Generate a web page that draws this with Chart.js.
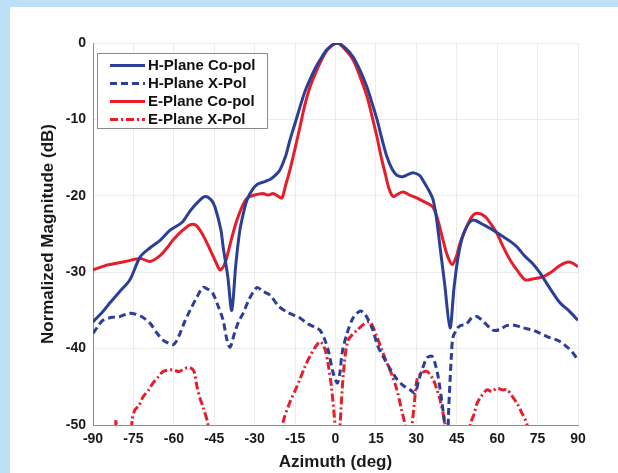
<!DOCTYPE html>
<html>
<head>
<meta charset="utf-8">
<script src="https://cdn.jsdelivr.net/npm/chart.js@4.4.1/dist/chart.umd.min.js"></script>
<style>
  html, body { margin: 0; padding: 0; background: #bde0f6; width: 618px; height: 473px; overflow: hidden; }
  #wrap { position: absolute; left: 10px; top: 7px; width: 608px; height: 466px; background: #ffffff; }
  canvas { display: block; }
</style>
</head>
<body>
<div id="wrap"><canvas id="c" width="608" height="466"></canvas></div>
<script>
// ---- Data ----
const seriesLabels = ['H-Plane Co-pol', 'H-Plane X-Pol', 'E-Plane Co-pol', 'E-Plane X-Pol'];
const xTicks = [-90, -75, -60, -45, -30, -15, 0, 15, 30, 45, 60, 75, 90];
const yTicks = [0, -10, -20, -30, -40, -50];

const hCoAng = [-90,-86,-83.7,-80,-76.3,-72.5,-68.8,-65,-61.4,-57,-54,-51,-48.4,-46,-44.7,-42.5,-41.7,-40,-38.5,-37,-35.5,-34,-32.8,-31,-29,-26,-24,-22,-20.6,-18.5,-16.9,-15,-13.2,-11.5,-9.5,-7.5,-5.7,-3,0.6,3.5,6.5,9,11.7,13.5,15.4,17.2,19.1,21,22.8,25,27,29,31.4,32.5,34.5,36.2,37.5,38.8,40.5,42.5,44,45.5,47.5,50.7,55,58.5,62,65,67.4,70,73,75.9,79,83.3,86.5,90];
const hCo    = [-36.5,-35,-34,-32.5,-31,-28,-26.8,-25.8,-24.5,-23.5,-22,-20.8,-20.1,-20.6,-21.5,-24.5,-26.7,-30.5,-35,-29,-24.5,-22,-20.5,-19.3,-18.5,-18.1,-17.8,-17.2,-16.6,-14.8,-12.7,-10.5,-8.4,-6.5,-4.8,-3.3,-2.2,-0.8,0,-0.6,-1.8,-3.5,-5.8,-7.8,-10,-12.5,-14.9,-16.5,-17.3,-17.5,-17.2,-17,-17.4,-18,-19.2,-20.5,-23,-26.7,-31.5,-37.3,-32,-28,-25,-23.2,-23.8,-24.5,-25.3,-26,-26.7,-27.8,-28.8,-30.1,-31.8,-34,-35,-36.3];

const hXAng = [-90,-88,-86.3,-83,-80,-77,-75.2,-72,-68.8,-66.2,-64,-62,-60.3,-59,-57.7,-56,-54,-51.5,-49.2,-47.5,-45.5,-43.5,-41.7,-40.2,-39.1,-37.5,-36,-34.3,-32,-29.1,-27,-24.3,-21,-18,-15,-13.2,-10,-7,-5.7,-4,-2.5,-1,0.6,1.5,2.5,4.3,6.5,9.1,11,13.9,15.5,17.6,20,22.8,25,27.7,29.5,31,32.5,34,35.8,37,38.1,39.5,40.7,41.5,42,43,43.6,45,46.2,48.5,50.5,52.5,55,58.5,61,63.5,65.9,69,71,73.4,76,79,83,86,88,90];
const hX    = [-38,-37,-36.3,-35.9,-35.8,-35.4,-35.4,-35.8,-36.7,-38,-38.9,-39.3,-39.5,-39,-38,-36.5,-35,-33.3,-32,-32.2,-32.8,-34.5,-36.3,-39,-39.8,-38,-36.5,-35.4,-33.5,-32,-32.5,-33,-34.5,-35.2,-35.7,-36,-36.8,-37.3,-37.6,-38.8,-40.5,-43,-44.5,-43.5,-40.5,-38,-36,-35.1,-35.5,-37.6,-39.5,-41,-42.5,-44,-44.8,-45.4,-45.8,-44,-42.4,-41.2,-41,-42,-43.7,-47,-50.5,-53,-48,-41,-38.5,-37.5,-37,-36.8,-36,-35.8,-36.5,-37.6,-37.5,-37,-36.9,-37.2,-37.4,-37.6,-38,-38.5,-39,-39.8,-40.5,-41.5];

const eCoAng = [-90,-86,-83.7,-78,-72.5,-68.8,-65,-62.5,-60.3,-57,-54,-52,-50.3,-48.5,-46.6,-44.5,-42.9,-41.5,-40.3,-38.5,-36.6,-34.5,-32.8,-30,-26.9,-25,-23.2,-21.5,-19.9,-18.5,-16.9,-15,-13.2,-11.5,-9.5,-7.5,-5.7,-3,0.6,3.5,6.5,9,11.7,13.5,15.4,17,18.4,19.8,21.4,23,25.1,27.5,30.3,33,36.2,38,39.9,41.5,43.3,44.8,46.2,48.5,50.5,52.5,55.5,57.5,59.9,62,64.8,67.5,70.4,73,77,80,83,85.9,88,90];
const eCo    = [-29.7,-29.2,-29,-28.6,-28.2,-28.6,-27.8,-26.8,-25.8,-24.6,-23.8,-23.8,-24.5,-25.6,-27,-28.6,-29.7,-29.2,-28,-25.5,-23.2,-21.3,-20.3,-19.9,-19.7,-19.9,-19.7,-20,-20.3,-18.6,-16.6,-13.8,-11,-8.3,-5.8,-4,-2.6,-0.9,0,-0.8,-2.2,-4.3,-7,-9.5,-12.3,-15,-17,-19,-20.1,-19.8,-19.5,-19.9,-20.3,-20.8,-21.5,-23.2,-25.8,-27.8,-29,-28,-26.2,-24.2,-22.8,-22.3,-22.7,-23.6,-24.9,-26.5,-28.4,-29.8,-31,-30.9,-30.6,-30,-29.2,-28.7,-28.8,-29.3];

const eXAng = [-90,-82.5,-81.5,-80.5,-77,-75.5,-74.4,-73,-71.4,-69.5,-67.7,-66,-64,-62,-60.3,-58,-56,-54,-52.5,-51.4,-50.3,-49.2,-47.3,-46,-22,-19.5,-16.9,-15,-13.2,-11.5,-9.5,-7.5,-5.7,-4,-2.8,-1.5,-0.2,0.8,1.7,3,4.7,8,10.5,12.8,15.4,17,19.1,21,22.8,24.5,25.8,27,28.4,29.3,30.3,32,34,36.2,37.5,38.8,40.7,42,48,50,51.5,52.5,54,56.2,58,59.9,62,63.7,65.5,67.4,69,71.1,73,90];
const eX    = [-56,-56,-49.3,-56,-56,-49.4,-48,-47.5,-46.3,-45.5,-44.5,-43.8,-43,-42.8,-42.8,-43,-42.6,-42.5,-43,-45,-46.5,-47.6,-50,-56,-56,-49.7,-47,-45.5,-44,-42.5,-41,-39.8,-39.1,-40,-41.9,-45,-50,-56,-50,-43,-38.9,-37.6,-36.8,-36.5,-38.5,-40,-41.9,-43.5,-45.4,-48,-50,-54,-50,-47,-44,-43.2,-43,-44,-45.2,-46.7,-50,-56,-56,-50,-48.5,-47.2,-46.3,-45.4,-45.6,-45.2,-45.4,-45.4,-46.2,-47.2,-48.3,-50,-56,-56];

// ---- Build chart ----
const BLUE = '#2c3f97';
const RED = '#e51e2a';
const pts = (xs, ys) => xs.map((x, i) => ({ x: x, y: ys[i] }));

const FONT = '"Liberation Sans", Arial, Helvetica, sans-serif';

const insideLegend = {
  id: 'insideLegend',
  afterDraw(chart) {
    const ctx = chart.ctx;
    const a = chart.chartArea;
    const bx = a.left + 4, by = a.top + 10, bw = 170, bh = 75;
    ctx.save();
    ctx.fillStyle = '#ffffff';
    ctx.fillRect(bx, by, bw, bh);
    ctx.strokeStyle = '#8a8a8a';
    ctx.lineWidth = 1;
    ctx.strokeRect(bx + 0.5, by + 0.5, bw, bh);
    const order = [0, 1, 2, 3];
    ctx.font = 'bold 15px ' + FONT;
    ctx.textBaseline = 'middle';
    ctx.textAlign = 'left';
    order.forEach((di, i) => {
      const ds = chart.data.datasets[di];
      const y = by + 12.5 + i * 18;
      ctx.beginPath();
      ctx.setLineDash(ds.borderDash || []);
      ctx.strokeStyle = ds.borderColor;
      ctx.lineWidth = 3;
      ctx.moveTo(bx + 13, y);
      ctx.lineTo(bx + 48, y);
      ctx.stroke();
      ctx.setLineDash([]);
      ctx.fillStyle = '#111';
      ctx.fillText(ds.label, bx + 51, y + 0.5);
    });
    ctx.restore();
  }
};

new Chart(document.getElementById('c'), {
  type: 'scatter',
  data: {
    datasets: [
      { label: seriesLabels[0], data: pts(hCoAng, hCo), borderColor: BLUE, borderWidth: 3, showLine: true, pointRadius: 0, tension: 0.3 },
      { label: seriesLabels[1], data: pts(hXAng, hX), borderColor: BLUE, borderWidth: 3, borderDash: [7, 4], showLine: true, pointRadius: 0, tension: 0.3 },
      { label: seriesLabels[2], data: pts(eCoAng, eCo), borderColor: RED, borderWidth: 3, showLine: true, pointRadius: 0, tension: 0.3 },
      { label: seriesLabels[3], data: pts(eXAng, eX), borderColor: RED, borderWidth: 3, borderDash: [8, 3, 2, 3], showLine: true, pointRadius: 0, tension: 0.3 }
    ]
  },
  options: {
    responsive: false,
    animation: false,
    events: [],
    layout: { padding: { left: 0, top: 36, right: 40, bottom: 0 } },
    plugins: { legend: { display: false }, tooltip: { enabled: false } },
    scales: {
      x: {
        type: 'linear',
        min: -90, max: 90,
        afterBuildTicks: (s) => { s.ticks = xTicks.map(v => ({ value: v })); },
        afterFit: (s) => { s.height = 48; },
        grid: { color: '#ebebeb', drawTicks: false, lineWidth: 1 },
        border: { color: '#8c8c8c', width: 1 },
        ticks: { padding: 6, color: '#1a1a1a', font: { family: FONT, size: 14, weight: 'bold' }, maxRotation: 0, autoSkip: false },
        title: { display: true, text: 'Azimuth (deg)', color: '#1a1a1a', font: { family: FONT, size: 17, weight: 'bold' }, padding: { top: 0, bottom: 0 } }
      },
      y: {
        type: 'linear',
        min: -50, max: 0,
        afterBuildTicks: (s) => { s.ticks = yTicks.map(v => ({ value: v })); },
        afterFit: (s) => { s.width = 83; },
        grid: { color: '#ebebeb', drawTicks: false, lineWidth: 1 },
        border: { color: '#8c8c8c', width: 1 },
        ticks: { padding: 7, color: '#1a1a1a', font: { family: FONT, size: 14, weight: 'bold' }, autoSkip: false },
        title: { display: true, text: 'Normalized Magnitude (dB)', color: '#1a1a1a', font: { family: FONT, size: 17, weight: 'bold' }, padding: { top: 28, bottom: 0 } }
      }
    }
  },
  plugins: [insideLegend]
});
</script>
</body>
</html>
